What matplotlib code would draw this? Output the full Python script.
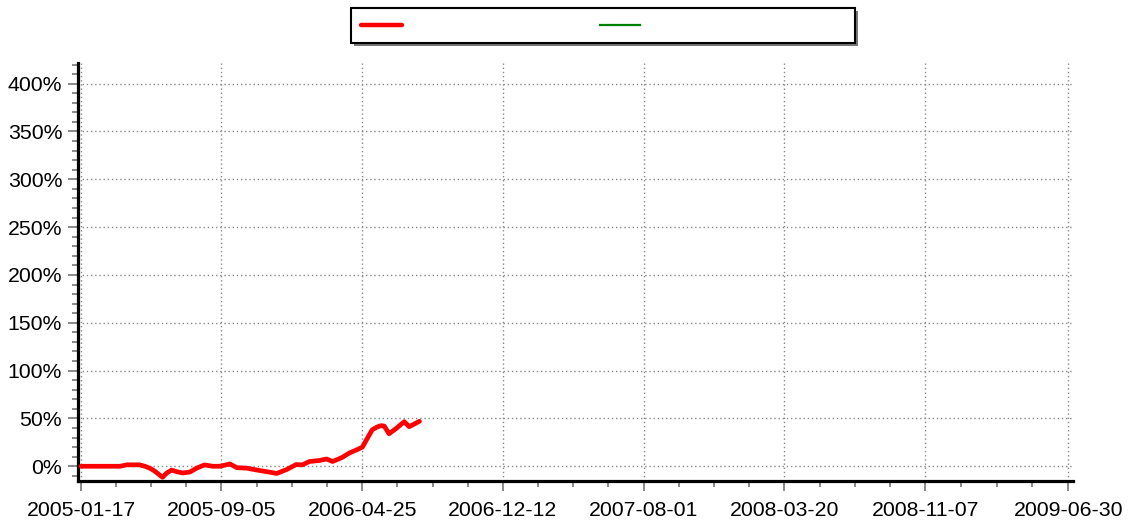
import numpy as np
import pandas as pd
import matplotlib
matplotlib.use('Agg')
import matplotlib.pyplot as plt
import matplotlib.dates as mdates
from matplotlib.ticker import MultipleLocator, PercentFormatter, FixedLocator
from matplotlib.lines import Line2D
from matplotlib.patches import Rectangle

plt.rcParams['font.family'] = ['Liberation Sans', 'DejaVu Sans']

W, H = 1134, 527

# portfolio return series (percent)
dates = ['2005-01-17', '2005-02-17', '2005-03-22', '2005-04-02', '2005-04-23',
         '2005-05-02', '2005-05-10', '2005-05-18', '2005-05-26', '2005-05-31',
         '2005-06-07', '2005-06-15', '2005-06-23', '2005-07-03', '2005-07-15',
         '2005-07-26', '2005-08-08', '2005-08-22', '2005-09-02', '2005-09-19',
         '2005-09-30', '2005-10-17', '2005-11-02', '2005-11-18', '2005-12-05',
         '2005-12-21', '2006-01-06', '2006-01-16', '2006-01-28', '2006-02-13',
         '2006-02-25', '2006-03-07', '2006-03-22', '2006-04-04', '2006-04-15',
         '2006-04-25', '2006-05-03', '2006-05-11', '2006-05-19', '2006-05-26',
         '2006-05-31', '2006-06-08', '2006-06-20', '2006-07-03', '2006-07-11',
         '2006-07-19', '2006-07-28']
returns = [0, 0, 0, 1.5, 1.5,
           0, -2, -5, -9, -11.5,
           -7, -4, -5.6, -7, -6,
           -2, 1.4, 0, 0, 2.4,
           -1.4, -2, -3.9, -5.6, -7.5,
           -3.5, 1.8, 1.4, 5, 6,
           7.6, 5, 9, 14, 17,
           20, 29, 38, 41, 42.5,
           42, 34, 39.7, 46.6, 41.4,
           44, 47]

tick_labels = ['2005-01-17', '2005-09-05', '2006-04-25', '2006-12-12',
               '2007-08-01', '2008-03-20', '2008-11-07', '2009-06-30']

x = pd.to_datetime(dates)
tick_dates = pd.to_datetime(tick_labels)

fig = plt.figure(figsize=(W / 100, H / 100), dpi=100)
ax = fig.add_axes([77.5 / W, 46 / H, (1073 - 77.5) / W, (481 - 63) / H])

ax.plot(x, returns, color='red', linewidth=3.4, solid_capstyle='round',
        solid_joinstyle='round', zorder=3)

ax.set_xlim(tick_dates[0] - pd.Timedelta(days=6), tick_dates[-1] + pd.Timedelta(days=8))
ax.set_ylim(-15.4, 421.6)

nums = mdates.date2num(tick_dates)
ax.xaxis.set_major_locator(FixedLocator(nums))
ax.xaxis.set_major_formatter(mdates.DateFormatter('%Y-%m-%d'))
minor = []
for a, b in zip(nums[:-1], nums[1:]):
    minor.extend(np.linspace(a, b, 5)[1:-1])
ax.xaxis.set_minor_locator(FixedLocator(minor))

ax.yaxis.set_major_locator(MultipleLocator(50))
ax.yaxis.set_minor_locator(MultipleLocator(10))
ax.yaxis.set_major_formatter(PercentFormatter(decimals=0))

for s in ['top', 'right']:
    ax.spines[s].set_visible(False)
for s in ['left', 'bottom']:
    ax.spines[s].set_linewidth(2.3)
    ax.spines[s].set_color('black')

ax.tick_params(axis='both', which='major', length=7, width=1.3, color='#808080',
               labelsize=15.3, labelcolor='black', pad=4)
ax.tick_params(axis='both', which='minor', length=4, width=1.3, color='#808080')
ax.tick_params(axis='x', which='major', pad=7.5)

ax.grid(True, which='major', color='#888888', linestyle=(0, (1, 2)), linewidth=1)
ax.set_axisbelow(True)

# legend box drawn by hand (entries have no text)
bx0, bx1, by0, by1 = 351, 855, 8, 43
fig.patches.append(Rectangle(((bx0 + 3) / W, (H - by1 - 3) / H), (bx1 - bx0) / W,
                             (by1 - by0) / H, transform=fig.transFigure,
                             facecolor='#777777', edgecolor='none', zorder=1))
fig.patches.append(Rectangle((bx0 / W, (H - by1) / H), (bx1 - bx0) / W,
                             (by1 - by0) / H, transform=fig.transFigure,
                             facecolor='white', edgecolor='black', linewidth=1.5, zorder=2))
ly = (H - 25) / H
fig.lines.append(Line2D([361 / W, 402 / W], [ly, ly], transform=fig.transFigure,
                        color='red', linewidth=3.2, solid_capstyle='round', zorder=3))
fig.lines.append(Line2D([600 / W, 640 / W], [ly, ly], transform=fig.transFigure,
                        color='green', linewidth=1.6, zorder=3))

fig.savefig('out.png', dpi=100)
